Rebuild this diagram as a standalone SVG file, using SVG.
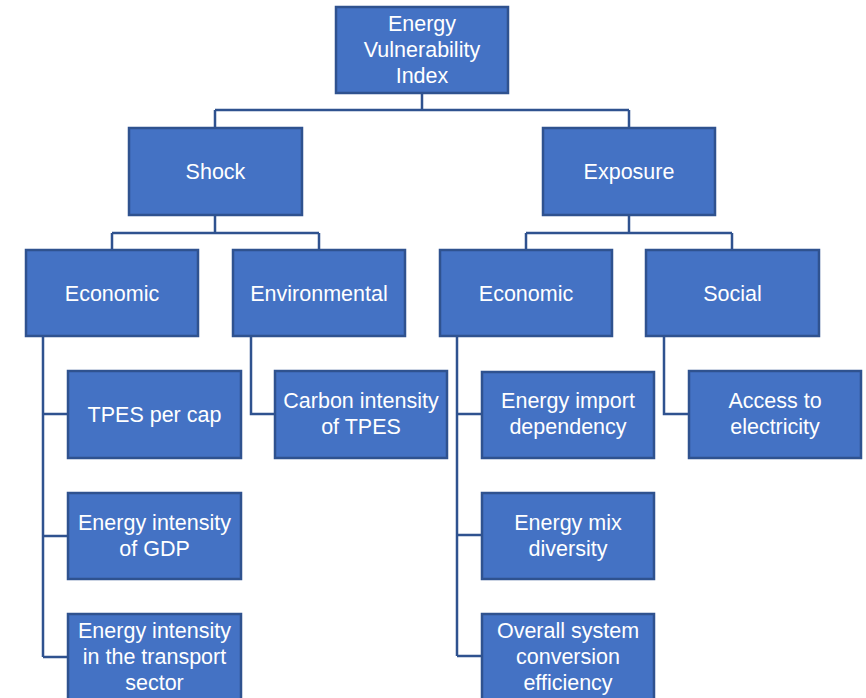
<svg xmlns="http://www.w3.org/2000/svg" width="866" height="698" viewBox="0 0 866 698">
<style>
.box{fill:#4472C4;stroke:#2F528F;stroke-width:2.5}
.t{font-family:"Liberation Sans",Arial,sans-serif;font-size:21.5px;fill:#FFFFFF;text-anchor:middle}
.c{fill:none;stroke:#2F528F;stroke-width:2.5}
</style>
<rect width="866" height="698" fill="#FFFFFF"/>
<g id="connectors">
<path class="c" d="M422,93V110M215,110H629M215,110V128M629,110V128"/>
<path class="c" d="M215,215V233M112,233H319M112,233V250M319,233V250"/>
<path class="c" d="M629,215V233M526,233H732M526,233V250M732,233V250"/>
<path class="c" d="M43,336V657M43,414H68M43,536H68M43,657H68"/>
<path class="c" d="M251,336V414H275"/>
<path class="c" d="M457,336V656M457,414H482M457,535H482M457,656H482"/>
<path class="c" d="M664,336V414H689"/>
</g>
<g id="root"><rect class="box" x="336" y="7" width="172" height="86"/><text class="t" x="422" y="31">Energy</text><text class="t" x="422" y="57">Vulnerability</text><text class="t" x="422" y="83">Index</text></g>
<g id="shock"><rect class="box" x="129" y="128" width="173" height="87"/><text class="t" x="215.5" y="179">Shock</text></g>
<g id="exposure"><rect class="box" x="543" y="128" width="172" height="87"/><text class="t" x="629" y="179">Exposure</text></g>
<g id="shock-economic"><rect class="box" x="26" y="250" width="172" height="86"/><text class="t" x="112" y="300.5">Economic</text></g>
<g id="shock-environmental"><rect class="box" x="233" y="250" width="172" height="86"/><text class="t" x="319" y="300.5">Environmental</text></g>
<g id="exposure-economic"><rect class="box" x="440" y="250" width="172" height="86"/><text class="t" x="526" y="300.5">Economic</text></g>
<g id="exposure-social"><rect class="box" x="646" y="250" width="173" height="86"/><text class="t" x="732.5" y="300.5">Social</text></g>
<g id="tpes"><rect class="box" x="68" y="371" width="173" height="87"/><text class="t" x="154.5" y="422">TPES per cap</text></g>
<g id="intensity-gdp"><rect class="box" x="68" y="493" width="173" height="86"/><text class="t" x="154.5" y="530">Energy intensity</text><text class="t" x="154.5" y="556">of GDP</text></g>
<g id="intensity-transport"><rect class="box" x="68" y="614" width="173" height="88"/><text class="t" x="154.5" y="638">Energy intensity</text><text class="t" x="154.5" y="664">in the transport</text><text class="t" x="154.5" y="690">sector</text></g>
<g id="carbon"><rect class="box" x="275" y="371" width="172" height="87"/><text class="t" x="361" y="408">Carbon intensity</text><text class="t" x="361" y="434">of TPES</text></g>
<g id="import"><rect class="box" x="482" y="372" width="172" height="86"/><text class="t" x="568" y="408">Energy import</text><text class="t" x="568" y="434">dependency</text></g>
<g id="mix"><rect class="box" x="482" y="493" width="172" height="86"/><text class="t" x="568" y="530">Energy mix</text><text class="t" x="568" y="556">diversity</text></g>
<g id="conversion"><rect class="box" x="482" y="614" width="172" height="88"/><text class="t" x="568" y="638">Overall system</text><text class="t" x="568" y="664">conversion</text><text class="t" x="568" y="690">efficiency</text></g>
<g id="access"><rect class="box" x="689" y="371" width="172" height="87"/><text class="t" x="775" y="408">Access to</text><text class="t" x="775" y="434">electricity</text></g>
</svg>
